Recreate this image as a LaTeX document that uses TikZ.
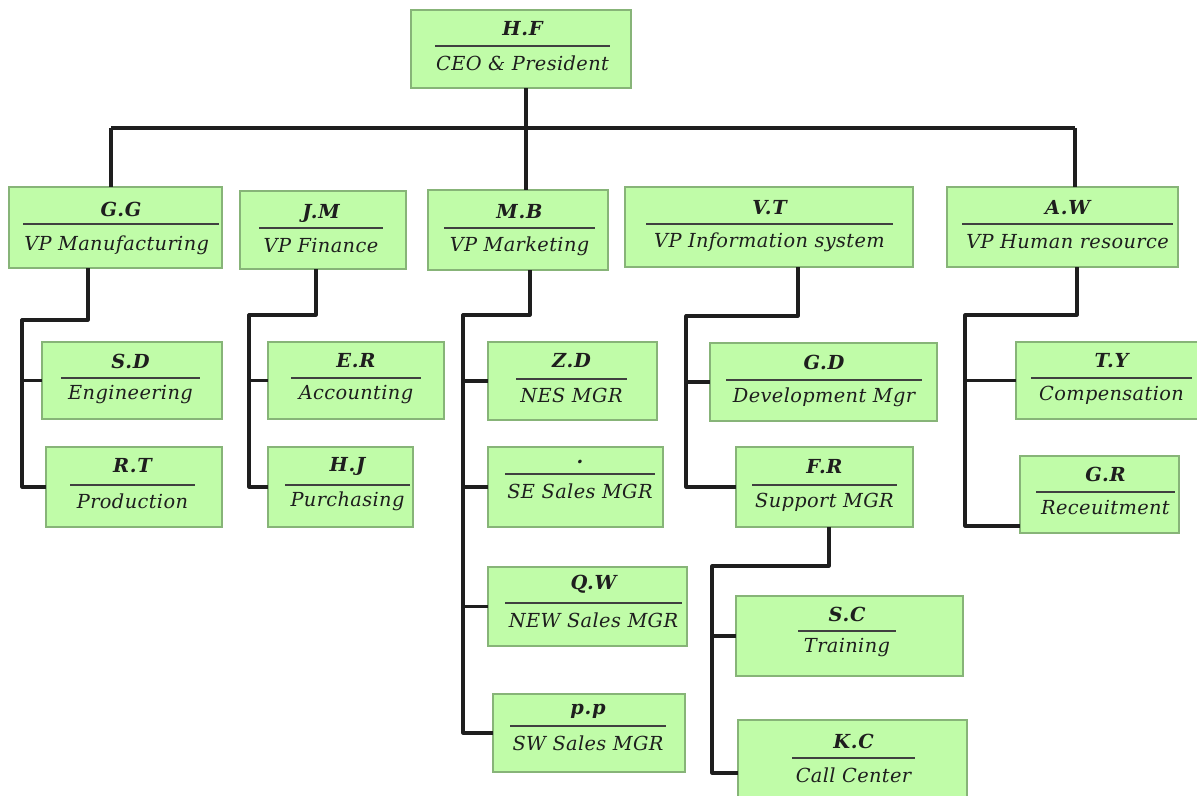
\documentclass[tikz,border=0pt]{standalone}
\usepackage{fontspec}
\setmainfont{DejaVu Serif}
\definecolor{boxfill}{RGB}{192,252,168}
\definecolor{boxline}{RGB}{135,180,120}
\definecolor{ink}{RGB}{30,30,30}
\tikzset{
  box/.style={draw=boxline, fill=boxfill, line width=1.1pt, inner sep=0pt, outer sep=0pt},
  namerule/.style={draw=ink!85, line width=1.6pt},
  nametext/.style={font=\bfseries\itshape\fontsize{14.5}{16}\selectfont\addfontfeature{LetterSpace=4}, text=ink, inner sep=0pt},
  titletext/.style={font=\itshape\fontsize{14.5}{16}\selectfont\addfontfeature{LetterSpace=2}, text=ink, inner sep=0pt},
  conn/.style={draw=ink, line width=2.4pt, line join=round}
}
\begin{document}
\begin{tikzpicture}[x=0.75pt,y=-0.75pt]
\useasboundingbox (0,0) rectangle (1197,796);
\clip (0,0) rectangle (1197,796);
\fill[white] (0,0) rectangle (1197,796);
% boxes: id/x1/y1/x2/y2/ruleY/ruleX1/ruleX2/name/nameY/title/titleY
\foreach \id/\xa/\ya/\xb/\yb/\ry/\rxa/\rxb/\nm/\ny/\tl/\ty in {
  ceo/411/10/631/88/46/435/610/H.F/29/CEO \& President/63,
  jm/240/191/406/269/228/259/383/J.M/213/VP Finance/246,
  mb/428/190/608/270/228/444/595/M.B/212/VP Marketing/246,
  vt/625/187/913/267/224/646/893/V.T/208/VP Information system/242,
  aw/947/187/1178/267/224/962/1173/A.W/208/VP Human resource/242,
  sd/42/342/222/419/378/61/200/S.D/361/Engineering/395,
  rt/46/447/222/527/485/70/195/R.T/466/Production/501,
  er/268/342/444/419/378/291/421/E.R/361/Accounting/395,
  hj/268/447/413/527/485/285/410/H.J/466/Purchasing/501,
  zd/488/342/657/420/379/516/627/Z.D/361/NES MGR/395,
  se/488/447/663/527/474/505/655/./462/SE Sales MGR/491,
  qw/488/567/687/646/603/505/682/Q.W/584/NEW Sales MGR/620,
  pp/493/694/685/772/726/510/666/p.p/711/SW Sales MGR/743,
  gd/710/343/937/421/380/726/922/G.D/362/Development Mgr/397,
  fr/736/447/913/527/485/752/897/F.R/467/Support MGR/502,
  sc/736/596/963/676/631/798/896/S.C/614/Training/648,
  kc/738/720/967/826/758/792/915/K.C/741/Call Center/775,
  ty/1016/342/1210/419/378/1031/1192/T.Y/361/Compensation/395,
  gr/1020/456/1179/533/492/1036/1175/G.R/474/Receuitment/508}
{
  \node[box, minimum width={(\xb-\xa)*0.75pt}, minimum height={(\yb-\ya)*0.75pt}]
    (\id) at ({(\xa+\xb)/2},{(\ya+\yb)/2}) {};
  \draw[namerule] (\rxa,\ry) -- (\rxb,\ry);
  \node[nametext] (\id-n) at ({(\rxa+\rxb)/2},\ny) {\nm};
  \node[titletext] (\id-t) at ({(\rxa+\rxb)/2},\ty) {\tl};
}
% G.G box with clipped title
\node[box, minimum width={213*0.75pt}, minimum height={81*0.75pt}] (gg) at (115.5,227.5) {};
\draw[namerule] (23,224) -- (219,224);
\node[nametext] (gg-n) at (121,209) {G.G};
\begin{scope}
  \clip (gg.south west) rectangle (gg.north east);
  \node[titletext, anchor=west] (gg-t) at (24,245) {VP Manufacturing};
\end{scope}
% top level connectors
\coordinate (b1) at (111,128);
\coordinate (b3) at (526,128);
\coordinate (b5) at (1075,128);
\draw[conn] (ceo.south -| b3) -- (b3);
\draw[conn] (b1) -- (b5);
\draw[conn] (b1) -- (b1 |- gg.north);
\draw[conn] (b3) -- (b3 |- mb.north);
\draw[conn] (b5) -- (b5 |- aw.north);
% G.G group
\coordinate (ggd) at (88,320);
\coordinate (ggv) at (22,320);
\draw[conn] (gg.south -| ggd) -- (ggd) -- (ggv) |- (rt.west);
\draw[conn] (ggv |- sd.west) -- (sd.west);
% J.M group
\coordinate (jmd) at (316,315);
\coordinate (jmv) at (249,315);
\draw[conn] (jm.south -| jmd) -- (jmd) -- (jmv) |- (hj.west);
\draw[conn] (jmv |- er.west) -- (er.west);
% M.B group
\coordinate (mbd) at (530,315);
\coordinate (mbv) at (463,315);
\draw[conn] (mb.south -| mbd) -- (mbd) -- (mbv) |- (pp.west);
\draw[conn] (mbv |- zd.west) -- (zd.west);
\draw[conn] (mbv |- se.west) -- (se.west);
\draw[conn] (mbv |- qw.west) -- (qw.west);
% V.T group
\coordinate (vtd) at (798,316);
\coordinate (vtv) at (686,316);
\draw[conn] (vt.south -| vtd) -- (vtd) -- (vtv) |- (fr.west);
\draw[conn] (vtv |- gd.west) -- (gd.west);
% F.R group
\coordinate (frd) at (829,566);
\coordinate (frv) at (712,566);
\draw[conn] (fr.south -| frd) -- (frd) -- (frv) |- (kc.west);
\draw[conn] (frv |- sc.west) -- (sc.west);
% A.W group
\coordinate (awd) at (1077,315);
\coordinate (awv) at (965,315);
\coordinate (grb) at (1020,526);
\draw[conn] (aw.south -| awd) -- (awd) -- (awv) |- (gr.west |- grb);
\draw[conn] (awv |- ty.west) -- (ty.west);
\end{tikzpicture}
\end{document}
